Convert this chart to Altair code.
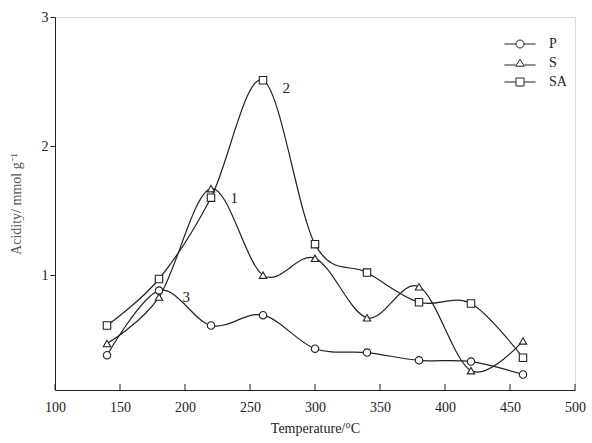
import altair as alt
import pandas as pd

temps = [140, 180, 220, 260, 300, 340, 380, 420, 460]
p_vals = [0.38, 0.88, 0.61, 0.69, 0.43, 0.40, 0.34, 0.33, 0.23]
s_vals = [0.47, 0.83, 1.67, 1.00, 1.13, 0.67, 0.91, 0.26, 0.49]
sa_vals = [0.61, 0.97, 1.60, 2.51, 1.24, 1.02, 0.79, 0.78, 0.36]
series_names = ["P", "S", "SA"]

ann_x = [235, 275, 198]
ann_y = [1.60, 2.45, 0.83]
ann_text = ["1", "2", "3"]

x_ticks = [100, 150, 200, 250, 300, 350, 400, 450, 500]
y_ticks = [1, 2, 3]

rows = []
for name, vals in zip(series_names, [p_vals, s_vals, sa_vals]):
    for t, v in zip(temps, vals):
        rows.append({"T": t, "acidity": v, "series": name, "legend_series": name})
df = pd.DataFrame(rows)
ann = pd.DataFrame({"T": ann_x, "acidity": ann_y, "label": ann_text})
ticks = pd.DataFrame({"T": x_ticks})

FONT = "Liberation Serif"
W, H = 520, 373

xscale = alt.Scale(domain=[100, 500], nice=False, zero=False)
yscale = alt.Scale(domain=[0.11, 3], nice=False, zero=False)

xax = alt.Axis(values=x_ticks, tickSize=0, labelPadding=10, labelFlush=False,
               title="Temperature/°C", titlePadding=7, grid=False,
               labelFontSize=14, titleFontSize=14, labelFont=FONT, titleFont=FONT,
               titleFontWeight="normal", domainColor="#222", labelColor="#222",
               titleColor="#222")
yax = alt.Axis(values=y_ticks, format="d", tickSize=5, labelPadding=2, labelFlush=False,
               title="Acidity/ mmol g⁻¹", grid=False, labelFontSize=14, titleFontSize=14,
               labelFont=FONT, titleFont=FONT, titleFontWeight="normal", titleX=-32,
               domainColor="#222", tickColor="#222", labelColor="#222", titleColor="#555")

base = alt.Chart(df)

lines = base.mark_line(interpolate="cardinal", color="#222", strokeWidth=1.2).encode(
    x=alt.X("T:Q", scale=xscale, axis=xax),
    y=alt.Y("acidity:Q", scale=yscale, axis=yax),
    detail="series:N",
)

points = base.mark_point(filled=True, fill="white", stroke="#222", strokeWidth=1.1,
                         size=55, opacity=1).encode(
    x="T:Q",
    y="acidity:Q",
    shape=alt.Shape("series:N", sort=series_names,
                    scale=alt.Scale(domain=series_names,
                                    range=["circle", "triangle-up", "square"]),
                    legend=None),
)

circle_p = "M-3.9,0H-1M1,0H3.9M-1,0A1,1 0 1,1 1,0A1,1 0 1,1 -1,0Z"
tri_p = "M-3.9,0.5H-1.1M1.1,0.5H3.9M0,-0.9L1.1,0.8L-1.1,0.8Z"
sq_p = "M-3.9,0H-1M1,0H3.9M-1,-1H1V1H-1Z"

legend_layer = base.mark_point(opacity=0, size=64).encode(
    x="T:Q",
    y="acidity:Q",
    shape=alt.Shape("legend_series:N",
                    scale=alt.Scale(domain=series_names, range=[circle_p, tri_p, sq_p]),
                    legend=alt.Legend(title=None, orient="none", legendX=458, legendY=20,
                                      symbolStrokeColor="#222", symbolStrokeWidth=1,
                                      symbolFillColor="transparent", symbolOpacity=1,
                                      symbolSize=64, labelOffset=22, rowPadding=5,
                                      labelFont=FONT, labelFontSize=14, labelColor="#222")),
)

tick_layer = alt.Chart(ticks).mark_rule(color="#222", strokeWidth=1).encode(
    x="T:Q",
    y=alt.value(H),
    y2=alt.value(H - 6),
)

labels = alt.Chart(ann).mark_text(font=FONT, fontSize=15, color="#222",
                                  align="left", baseline="middle").encode(
    x="T:Q",
    y="acidity:Q",
    text="label:N",
)

chart = alt.layer(lines, points, legend_layer, tick_layer, labels).resolve_scale(
    shape="independent"
).properties(
    width=W, height=H,
    padding={"left": 55, "top": 17, "right": 17, "bottom": 53},
    autosize=alt.AutoSizeParams(type="none"),
).configure_view(stroke="#222", strokeWidth=1.2).configure(background="white")

chart.save("out.html", embed_options={"renderer": "svg", "actions": False})
